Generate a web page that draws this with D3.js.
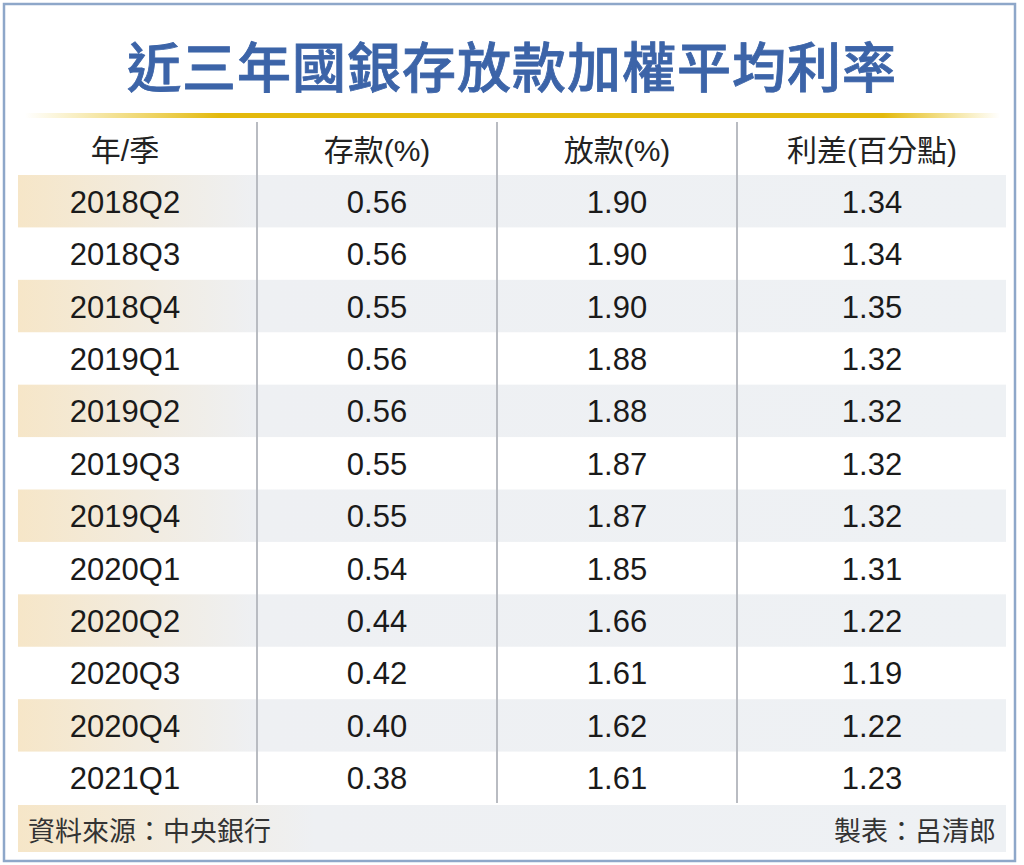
<!DOCTYPE html>
<html>
<head>
<meta charset="utf-8">
<script src="https://cdn.jsdelivr.net/npm/d3@7"></script>
<style>
  html, body { margin: 0; padding: 0; background: #fff; }
  svg { display: block; }
</style>
</head>
<body>
<svg id="chart"></svg>
<script>
const title = '近三年國銀存放款加權平均利率'
const headers = ['年/季', '存款(%)', '放款(%)', '利差(百分點)']
const quarters = ['2018Q2', '2018Q3', '2018Q4', '2019Q1', '2019Q2', '2019Q3',
  '2019Q4', '2020Q1', '2020Q2', '2020Q3', '2020Q4', '2021Q1']
const deposit = [0.56, 0.56, 0.55, 0.56, 0.56, 0.55, 0.55, 0.54, 0.44, 0.42, 0.40, 0.38]
const loan = [1.90, 1.90, 1.90, 1.88, 1.88, 1.87, 1.87, 1.85, 1.66, 1.61, 1.62, 1.61]
const spread = [1.34, 1.34, 1.35, 1.32, 1.32, 1.32, 1.32, 1.31, 1.22, 1.19, 1.22, 1.23]
const source = '資料來源：中央銀行'
const credit = '製表：呂清郎'

const W = 1024, H = 865
const tableLeft = 18, tableRight = 1006
const headerY = 150
const font = '"Liberation Sans", Arial, "Noto Sans CJK TC", sans-serif'
const cjkFont = '"Noto Sans CJK TC", "Noto Sans CJK SC", sans-serif'

const svg = d3.select('#chart').attr('width', W).attr('height', H)

// gradients
const defs = svg.append('defs')
function linearGradient (id, stops) {
  const g = defs.append('linearGradient').attr('id', id)
    .attr('x1', 0).attr('x2', 1).attr('y1', 0).attr('y2', 0)
  stops.forEach(([offset, color, opacity]) => {
    g.append('stop').attr('offset', offset).attr('stop-color', color)
      .attr('stop-opacity', opacity === undefined ? 1 : opacity)
  })
}
linearGradient('gold', [[0, '#e8c31a', 0], [0.2, '#e3b90c'], [0.88, '#e3b90c'], [1, '#e8c31a', 0]])
linearGradient('rowShade', [[0, '#f6e6c8'], [0.24, '#eef0f3'], [1, '#eef1f4']])
linearGradient('footShade', [[0, '#f6e6c8'], [0.3, '#eef0f3'], [1, '#eef1f4']])

// outer frame
svg.append('rect')
  .attr('x', 4).attr('y', 4).attr('width', 1011).attr('height', 857)
  .attr('fill', '#fff').attr('stroke', '#8ea7c9').attr('stroke-width', 2.5)

// title
svg.append('text')
  .attr('x', W / 2).attr('y', 64)
  .attr('text-anchor', 'middle').attr('dominant-baseline', 'central')
  .attr('font-family', cjkFont).attr('font-size', 54).attr('font-weight', 500)
  .attr('letter-spacing', 1)
  .attr('fill', '#3c64a8')
  .attr('stroke', '#3c64a8').attr('stroke-width', 0.8)
  .text(title)

svg.append('rect')
  .attr('x', 25).attr('y', 113).attr('width', 975).attr('height', 5)
  .attr('fill', 'url(#gold)')

// scales
const y = d3.scaleBand().domain(quarters).range([175, 804])
const colX = d3.scaleOrdinal().domain(d3.range(headers.length)).range([125, 377, 617, 872])
const dividers = [257, 497, 737]

// shaded rows
svg.append('g').selectAll('rect')
  .data(quarters.filter((d, i) => i % 2 === 0))
  .join('rect')
  .attr('x', tableLeft).attr('width', tableRight - tableLeft)
  .attr('y', d => y(d)).attr('height', y.bandwidth())
  .attr('fill', 'url(#rowShade)')

// footer band
svg.append('rect')
  .attr('x', tableLeft).attr('width', tableRight - tableLeft)
  .attr('y', 805).attr('height', 47)
  .attr('fill', 'url(#footShade)')

// column dividers
svg.append('g').selectAll('line')
  .data(dividers)
  .join('line')
  .attr('x1', d => d).attr('x2', d => d)
  .attr('y1', 122).attr('y2', 803)
  .attr('stroke', '#b9bcc2').attr('stroke-width', 2)

// header
svg.append('g').selectAll('text')
  .data(headers)
  .join('text')
  .attr('x', (d, i) => colX(i)).attr('y', headerY)
  .attr('text-anchor', 'middle').attr('dominant-baseline', 'central')
  .attr('font-family', font).attr('font-size', 30)
  .attr('fill', '#222')
  .text(d => d)

// body
const rows = quarters.map((q, i) => [q, deposit[i].toFixed(2), loan[i].toFixed(2), spread[i].toFixed(2)])
svg.append('g').selectAll('g.row')
  .data(rows)
  .join('g').attr('class', 'row')
  .attr('transform', d => `translate(0, ${y(d[0]) + y.bandwidth() / 2})`)
  .selectAll('text')
  .data(d => d)
  .join('text')
  .attr('x', (d, i) => colX(i)).attr('y', 1)
  .attr('text-anchor', 'middle').attr('dominant-baseline', 'central')
  .attr('font-family', font).attr('font-size', 31)
  .attr('fill', '#1a1a1a')
  .text(d => d)

// footer texts
svg.append('text')
  .attr('x', 28).attr('y', 829)
  .attr('dominant-baseline', 'central')
  .attr('font-family', cjkFont).attr('font-size', 27)
  .attr('fill', '#333')
  .text(source)
svg.append('text')
  .attr('x', 996).attr('y', 829)
  .attr('text-anchor', 'end').attr('dominant-baseline', 'central')
  .attr('font-family', cjkFont).attr('font-size', 27)
  .attr('fill', '#333')
  .text(credit)
</script>
</body>
</html>
